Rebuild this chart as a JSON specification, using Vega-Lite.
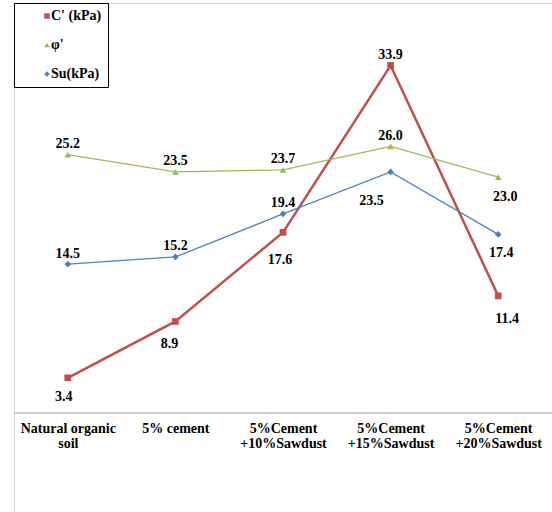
{
  "$schema": "https://vega.github.io/schema/vega-lite/v6.json",
  "width": 538,
  "height": 512,
  "autosize": {"type": "none"},
  "padding": {"left": 14, "top": 3, "right": 0, "bottom": 0},
  "background": "white",
  "config": {
    "view": {"stroke": "#d4d4d4", "strokeWidth": 1},
    "font": "Liberation Serif",
    "text": {"font": "Liberation Serif", "fontWeight": "bold", "fontSize": 14, "color": "black", "align": "center", "baseline": "middle"}
  },
  "data": {
    "values": [
      {"series": "C' (kPa)", "category": "Natural organic soil", "value": 3.4},
      {"series": "C' (kPa)", "category": "5% cement", "value": 8.9},
      {"series": "C' (kPa)", "category": "5%Cement +10%Sawdust", "value": 17.6},
      {"series": "C' (kPa)", "category": "5%Cement +15%Sawdust", "value": 33.9},
      {"series": "C' (kPa)", "category": "5%Cement +20%Sawdust", "value": 11.4},
      {"series": "φ'", "category": "Natural organic soil", "value": 25.2},
      {"series": "φ'", "category": "5% cement", "value": 23.5},
      {"series": "φ'", "category": "5%Cement +10%Sawdust", "value": 23.7},
      {"series": "φ'", "category": "5%Cement +15%Sawdust", "value": 26.0},
      {"series": "φ'", "category": "5%Cement +20%Sawdust", "value": 23.0},
      {"series": "Su(kPa)", "category": "Natural organic soil", "value": 14.5},
      {"series": "Su(kPa)", "category": "5% cement", "value": 15.2},
      {"series": "Su(kPa)", "category": "5%Cement +10%Sawdust", "value": 19.4},
      {"series": "Su(kPa)", "category": "5%Cement +15%Sawdust", "value": 23.5},
      {"series": "Su(kPa)", "category": "5%Cement +20%Sawdust", "value": 17.4}
    ]
  },
  "encoding": {
    "x": {
      "field": "category",
      "type": "nominal",
      "sort": ["Natural organic soil", "5% cement", "5%Cement +10%Sawdust", "5%Cement +15%Sawdust", "5%Cement +20%Sawdust"],
      "scale": {"type": "point", "padding": 0.5},
      "axis": {
        "title": null,
        "orient": "bottom",
        "offset": -102.4,
        "grid": false,
        "ticks": false,
        "domainColor": "#d0d0d0",
        "domainWidth": 2,
        "labelAngle": 0,
        "labelFont": "Liberation Serif",
        "labelFontWeight": "bold",
        "labelFontSize": 14,
        "labelColor": "black",
        "labelPadding": 9,
        "labelLineHeight": 15,
        "labelBaseline": "top",
        "labelExpr": "indexof(datum.value, '+') > 0 ? split(datum.value, ' ') : (datum.value == 'Natural organic soil' ? ['Natural organic', 'soil'] : datum.value)"
      }
    },
    "y": {
      "field": "value",
      "type": "quantitative",
      "scale": {"domain": [-10, 40], "nice": false, "zero": false},
      "axis": null
    },
    "color": {
      "field": "series",
      "type": "nominal",
      "scale": {"domain": ["C' (kPa)", "φ'", "Su(kPa)"], "range": ["#C0504D", "#9BBB59", "#4F81BD"]},
      "legend": {
        "title": null,
        "orient": "none",
        "legendX": 0,
        "legendY": 0,
        "padding": 6,
        "strokeColor": "black",
        "fillColor": "white",
        "symbolOffset": 20,
        "labelOffset": -3,
        "rowPadding": 15,
        "symbolSize": 30,
        "symbolStrokeWidth": 0,
        "labelFont": "Liberation Serif",
        "labelFontWeight": "bold",
        "labelFontSize": 14,
        "labelColor": "black"
      }
    }
  },
  "layer": [
    {
      "transform": [{"filter": "datum.series == \"C' (kPa)\""}],
      "mark": {"type": "line", "strokeWidth": 2.5},
      "encoding": {}
    },
    {
      "transform": [{"filter": "datum.series != \"C' (kPa)\""}],
      "mark": {"type": "line", "strokeWidth": 1.3},
      "encoding": {}
    },
    {
      "mark": {"type": "point", "filled": true, "opacity": 1, "size": 45},
      "encoding": {
        "shape": {
          "field": "series",
          "type": "nominal",
          "scale": {"domain": ["C' (kPa)", "φ'", "Su(kPa)"], "range": ["square", "triangle-up", "diamond"]}
        }
      }
    },
    {
      "transform": [{"filter": "!((datum.series == \"C' (kPa)\" && datum.category != '5%Cement +15%Sawdust') || (datum.series == 'Su(kPa)' && datum.category == '5%Cement +15%Sawdust') || datum.category == '5%Cement +20%Sawdust')"}],
      "mark": {"type": "text", "dy": -10.5},
      "encoding": {"text": {"field": "value", "type": "quantitative", "format": ".1f"}, "color": {"value": "black"}}
    },
    {
      "transform": [{"filter": "datum.series == \"C' (kPa)\" && datum.category == 'Natural organic soil'"}],
      "mark": {"type": "text", "dx": -4, "dy": 19},
      "encoding": {"text": {"field": "value", "type": "quantitative", "format": ".1f"}, "color": {"value": "black"}}
    },
    {
      "transform": [{"filter": "datum.series == \"C' (kPa)\" && datum.category == '5% cement'"}],
      "mark": {"type": "text", "dx": -6, "dy": 22.5},
      "encoding": {"text": {"field": "value", "type": "quantitative", "format": ".1f"}, "color": {"value": "black"}}
    },
    {
      "transform": [{"filter": "datum.series == \"C' (kPa)\" && datum.category == '5%Cement +10%Sawdust'"}],
      "mark": {"type": "text", "dx": -3, "dy": 27.5},
      "encoding": {"text": {"field": "value", "type": "quantitative", "format": ".1f"}, "color": {"value": "black"}}
    },
    {
      "transform": [{"filter": "datum.series == \"C' (kPa)\" && datum.category == '5%Cement +20%Sawdust'"}],
      "mark": {"type": "text", "dx": 9, "dy": 23.5},
      "encoding": {"text": {"field": "value", "type": "quantitative", "format": ".1f"}, "color": {"value": "black"}}
    },
    {
      "transform": [{"filter": "datum.series == 'Su(kPa)' && datum.category == '5%Cement +15%Sawdust'"}],
      "mark": {"type": "text", "dx": -19, "dy": 29.5},
      "encoding": {"text": {"field": "value", "type": "quantitative", "format": ".1f"}, "color": {"value": "black"}}
    },
    {
      "transform": [{"filter": "datum.series == 'Su(kPa)' && datum.category == '5%Cement +20%Sawdust'"}],
      "mark": {"type": "text", "dx": 3, "dy": 18.5},
      "encoding": {"text": {"field": "value", "type": "quantitative", "format": ".1f"}, "color": {"value": "black"}}
    },
    {
      "transform": [{"filter": "datum.series == 'φ\\'' && datum.category == '5%Cement +20%Sawdust'"}],
      "mark": {"type": "text", "dx": 7, "dy": 20},
      "encoding": {"text": {"field": "value", "type": "quantitative", "format": ".1f"}, "color": {"value": "black"}}
    }
  ]
}
